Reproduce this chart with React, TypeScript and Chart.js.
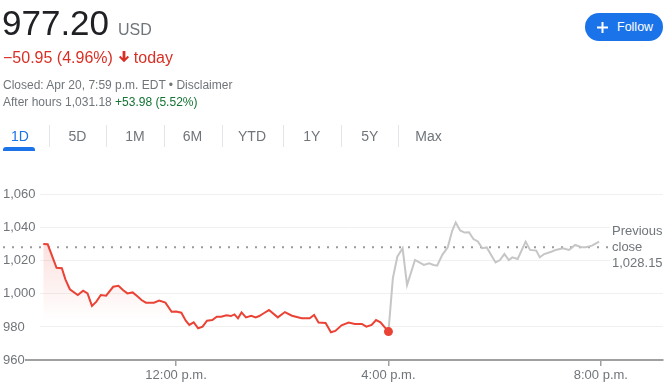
import React, { useEffect, useRef } from "react";
import { Chart, registerables } from "chart.js";

Chart.register(...registerables);

// ---- Data (minutes since midnight, price) ----
const regularTimes = [
  570, 575, 585, 591, 595, 600, 609, 615, 620, 625, 630, 635, 641, 649, 655, 660, 665, 671, 676, 681,
  686, 695, 701, 708, 715, 720, 726, 731, 735, 740, 745, 750, 755, 761, 766, 771, 777, 782, 786, 790,
  794, 799, 805, 810, 814, 820, 825, 835, 843, 851, 862, 871, 876, 881, 889, 895, 900, 907, 915, 922,
  930, 935, 941, 946, 951, 960,
];
const regularPrices = [
  1030.2, 1030.0, 1015.8, 1015.5, 1008.8, 1002.8, 999.3, 1001.9, 1000.3, 992.7, 995.3, 999.3, 998.9, 1004.3, 1004.9, 1002.3, 1000.3, 1000.9, 998.7, 996.3,
  994.7, 994.7, 995.9, 994.7, 989.2, 989.4, 988.6, 983.8, 981.2, 982.8, 979.2, 980.2, 983.8, 984.2, 986.2, 986.2, 987.0, 986.6, 987.6, 985.2,
  988.8, 985.8, 986.8, 985.8, 986.6, 988.6, 990.2, 985.8, 989.0, 986.8, 985.3, 985.2, 987.2, 982.7, 982.4, 976.8, 977.6, 981.0, 982.6, 981.8,
  981.8, 980.2, 981.2, 984.2, 982.8, 977.2,
];
const afterTimes = [
  960, 965, 970, 976, 981, 990, 1000, 1006, 1011, 1015, 1021, 1027, 1032, 1036, 1041, 1046, 1051, 1056, 1061, 1066,
  1071, 1081, 1086, 1091, 1096, 1100, 1106, 1115, 1120, 1127, 1131, 1136, 1144, 1149, 1157, 1164, 1171, 1178, 1183, 1190,
  1198,
];
const afterPrices = [
  977.2, 1009.5, 1022.5, 1027.6, 1005.4, 1020.5, 1017.5, 1018.5, 1017.5, 1017.1, 1023.8, 1028.2, 1038.2, 1043.2, 1038.4, 1037.1, 1037.3, 1033.2, 1031.7, 1027.6,
  1028.1, 1019.0, 1020.5, 1024.1, 1020.5, 1022.1, 1021.1, 1031.6, 1026.6, 1026.2, 1022.1, 1024.1, 1025.5, 1026.6, 1027.6, 1026.6, 1029.6, 1028.2, 1028.2, 1029.2,
  1031.6,
];
const previousClose = 1028.15;
const yTickValues = [960, 980, 1000, 1020, 1040, 1060];
const xTickValues = [720, 960, 1200];
const xTickLabels = ["12:00 p.m.", "4:00 p.m.", "8:00 p.m."];
const tabs = ["1D", "5D", "1M", "6M", "YTD", "1Y", "5Y", "Max"];
const tabCenters = [20, 77.5, 135, 192.5, 252, 311.7, 369.7, 428.5];
const tabSeparators = [49.3, 106, 164, 221.7, 282.7, 340.7, 398.3];

const FONT = 'Arial, "Liberation Sans", sans-serif';
const RED = "#ea4335";
const GRAY_LINE = "#c6c6c6";
const TEXT_GRAY = "#70757a";

const overlayPlugin = {
  id: "overlay",
  beforeDatasetsDraw(chart: any) {
    const { ctx, chartArea, scales } = chart;
    const y = scales.y.getPixelForValue(previousClose);
    ctx.save();
    ctx.strokeStyle = "#9a9a9a";
    ctx.lineWidth = 2;
    ctx.setLineDash([2, 7]);
    ctx.beginPath();
    ctx.moveTo(3, y);
    ctx.lineTo(608, y);
    ctx.stroke();
    ctx.restore();
    // extend x axis line to the left
    ctx.save();
    ctx.strokeStyle = "#a0a0a0";
    ctx.lineWidth = 2;
    ctx.beginPath();
    ctx.moveTo(25, chartArea.bottom);
    ctx.lineTo(chartArea.left + 1, chartArea.bottom);
    ctx.stroke();
    ctx.restore();
  },
  afterDraw(chart: any) {
    const { ctx, scales } = chart;
    const y = scales.y.getPixelForValue(previousClose);
    ctx.save();
    ctx.fillStyle = "#ffffff";
    ctx.fillRect(610, y - 24, 62, 48);
    ctx.fillStyle = TEXT_GRAY;
    ctx.font = `13px ${FONT}`;
    ctx.textAlign = "left";
    ctx.textBaseline = "middle";
    ctx.fillText("Previous", 612, y - 16);
    ctx.fillText("close", 612, y + 0.5);
    ctx.fillText(previousClose.toLocaleString("en-US", { minimumFractionDigits: 2 }), 612, y + 16);
    ctx.restore();
  },
};

function ChartCanvas() {
  const ref = useRef<HTMLCanvasElement | null>(null);
  useEffect(() => {
    if (!ref.current) return;
    const lastIdx = regularTimes.length - 1;
    const chart = new Chart(ref.current, {
      type: "line",
      data: {
        datasets: [
          {
            data: regularTimes.map((t, i) => ({ x: t, y: regularPrices[i] })),
            borderColor: RED,
            borderWidth: 2,
            tension: 0,
            fill: "start",
            backgroundColor: (context: any) => {
              const { chart } = context;
              const { ctx, chartArea, scales } = chart;
              if (!chartArea || !scales.y) return "rgba(234,67,53,0.1)";
              const g = ctx.createLinearGradient(0, scales.y.getPixelForValue(1030), 0, scales.y.getPixelForValue(984));
              g.addColorStop(0, "rgba(234,67,53,0.16)");
              g.addColorStop(1, "rgba(234,67,53,0)");
              return g;
            },
            pointRadius: (c: any) => (c.dataIndex === lastIdx ? 4.5 : 0),
            pointBackgroundColor: RED,
            pointBorderColor: RED,
            pointBorderWidth: 0,
          },
          {
            data: afterTimes.map((t, i) => ({ x: t, y: afterPrices[i] })),
            borderColor: GRAY_LINE,
            borderWidth: 2,
            tension: 0,
            fill: false,
            pointRadius: 0,
          },
        ],
      },
      options: {
        responsive: false,
        animation: false,
        events: [],
        layout: { padding: { left: 3, right: 9, top: 180, bottom: 0 } },
        plugins: { legend: { display: false }, tooltip: { enabled: false } },
        scales: {
          x: {
            type: "linear",
            min: 566.3,
            max: 1270.2,
            afterBuildTicks: (s: any) => {
              s.ticks = xTickValues.map((v) => ({ value: v }));
            },
            afterFit: (s: any) => {
              s.height = 27;
            },
            ticks: {
              callback: (v: any) => {
                const i = xTickValues.indexOf(Number(v));
                return i >= 0 ? xTickLabels[i] : "";
              },
              color: TEXT_GRAY,
              font: { family: FONT, size: 13 },
              padding: 2,
              maxRotation: 0,
              autoSkip: false,
            },
            grid: { drawOnChartArea: false, drawTicks: true, tickLength: 6, color: "#a0a0a0", lineWidth: 1.5 },
            border: { display: true, color: "#a0a0a0", width: 2 },
          },
          y: {
            type: "linear",
            min: 960,
            max: 1068.9,
            afterBuildTicks: (s: any) => {
              s.ticks = yTickValues.map((v) => ({ value: v }));
            },
            afterFit: (s: any) => {
              s.width = 37;
            },
            ticks: {
              crossAlign: "far",
              color: TEXT_GRAY,
              font: { family: FONT, size: 13 },
              padding: 4,
              callback: (v: any) => Number(v).toLocaleString("en-US"),
            },
            grid: { color: "#f0f0f0", drawTicks: false, lineWidth: 1 },
            border: { display: false },
          },
        },
      } as any,
      plugins: [overlayPlugin],
    });
    return () => chart.destroy();
  }, []);
  return <canvas ref={ref} width={672} height={387} style={{ position: "absolute", left: 0, top: 0, display: "block" }} />;
}

export default function App() {
  useEffect(() => {
    document.body.style.margin = "0";
  }, []);
  const abs = (left: number, top: number, extra: any = {}) => ({
    position: "absolute" as const,
    left,
    top,
    lineHeight: 1,
    whiteSpace: "nowrap" as const,
    fontFamily: FONT,
    ...extra,
  });
  return (
    <div style={{ position: "relative", width: 672, height: 387, overflow: "hidden", background: "#fff", fontFamily: FONT }}>
      <ChartCanvas />
      <div style={abs(2, 5.4, { fontSize: 35, color: "#202124" })}>977.20</div>
      <div style={abs(118, 21.5, { fontSize: 16, color: TEXT_GRAY })}>USD</div>
      <div style={abs(3, 49.8, { fontSize: 16, color: "#d93025", display: "flex", alignItems: "center" })}>
        <span>−50.95 (4.96%)</span>
        <svg width="10" height="12" viewBox="0 0 10 12" style={{ marginLeft: 6, marginTop: -1 }}>
          <path d="M3.6 0h2.8v7.1l2.3-2.3 1.3 1.5L5 11.3 0 6.3l1.3-1.5 2.3 2.3z" fill="#d93025" />
        </svg>
        <span style={{ marginLeft: 5 }}>today</span>
      </div>
      <div style={abs(3, 79.2, { fontSize: 12, color: TEXT_GRAY })}>Closed: Apr 20, 7:59 p.m. EDT • Disclaimer</div>
      <div style={abs(3, 95.8, { fontSize: 12, color: TEXT_GRAY })}>
        After hours 1,031.18 <span style={{ color: "#137333" }}>+53.98 (5.52%)</span>
      </div>
      {/* Follow button */}
      <div
        style={{
          position: "absolute",
          left: 585,
          top: 13,
          width: 78,
          height: 28,
          borderRadius: 14,
          background: "#1a73e8",
        }}
      >
        <svg width="11" height="11" viewBox="0 0 11 11" style={{ position: "absolute", left: 12, top: 8.5 }}>
          <rect x="4.5" y="0" width="2" height="11" fill="#fff" />
          <rect x="0" y="4.5" width="11" height="2" fill="#fff" />
        </svg>
        <div style={abs(32, 8, { fontSize: 12.5, color: "#fff" })}>Follow</div>
      </div>
      {/* Tabs */}
      {tabs.map((t, i) => (
        <div
          key={t}
          style={abs(tabCenters[i] - 25, 129.2, {
            width: 50,
            textAlign: "center",
            fontSize: 14,
            color: i === 0 ? "#1a73e8" : TEXT_GRAY,
          })}
        >
          {t}
        </div>
      ))}
      {tabSeparators.map((x, i) => (
        <div key={i} style={{ position: "absolute", left: Math.round(x), top: 125, width: 1, height: 22, background: "#e3e5e8" }} />
      ))}
      <div style={{ position: "absolute", left: 3, top: 147.3, width: 32, height: 3.5, background: "#1a73e8", borderRadius: "3px 3px 0 0" }} />
    </div>
  );
}
